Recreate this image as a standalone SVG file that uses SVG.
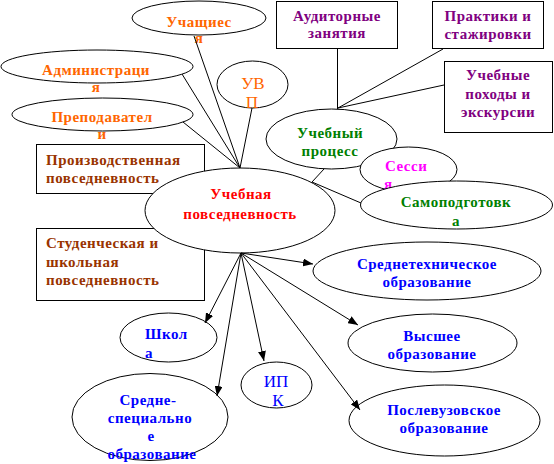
<svg xmlns="http://www.w3.org/2000/svg" width="554" height="464" viewBox="0 0 554 464">
<style>
.n{fill:#fff;stroke:#000;stroke-width:1}
.t{font-family:"Liberation Serif","Times New Roman",serif;font-weight:bold;font-size:15px;letter-spacing:0.5px}
.r{font-family:"Liberation Serif","Times New Roman",serif;font-size:17px}
.c{text-anchor:middle}
.or{fill:#FF6600}.pu{fill:#800080}.br{fill:#993300}.gr{fill:#008000}.rd{fill:#FF0000}.mg{fill:#FF00FF}.bl{fill:#0000FF}
.l{stroke:#000;stroke-width:1;fill:none}
.a{stroke:#000;stroke-width:1;fill:none;marker-end:url(#ah)}
</style>
<defs>
<marker id="ah" viewBox="0 0 10 8" refX="10" refY="4" markerWidth="10" markerHeight="8" markerUnits="userSpaceOnUse" orient="auto">
<path d="M0,0 L10,4 L0,8 Z" fill="#000"/>
</marker>
</defs>
<g id="node-uchashiesya"><ellipse class="n" cx="199" cy="18" rx="67" ry="17"/><text class="t c or" x="199" y="27">Учащиес</text><text class="t c or" x="199" y="43">я</text></g>
<g id="node-administraciya"><ellipse class="n" cx="97" cy="66.5" rx="96" ry="16.5"/><text class="t c or" x="96" y="75">Администраци</text><text class="t c or" x="96" y="92">я</text></g>
<g id="node-prepodavateli"><ellipse class="n" cx="102.5" cy="114.5" rx="90.5" ry="16.5"/><text class="t c or" x="102" y="122">Преподавател</text><text class="t c or" x="102" y="139">и</text></g>
<g id="node-uvp"><ellipse class="n" cx="252.5" cy="84.5" rx="35.5" ry="23.5"/><text class="r c or" x="253" y="89">УВ</text><text class="r c or" x="252" y="108">П</text></g>
<g id="node-auditornye"><rect class="n" x="276.5" y="1.5" width="121" height="47"/><text class="t c pu" x="337" y="21">Аудиторные</text><text class="t c pu" x="337" y="38">занятия</text></g>
<g id="node-praktiki"><rect class="n" x="432.5" y="1.5" width="111" height="47"/><text class="t c pu" x="488" y="21">Практики и</text><text class="t c pu" x="488" y="39">стажировки</text></g>
<g id="node-pohody"><rect class="n" x="444.5" y="61.5" width="108" height="71"/><text class="t c pu" x="498" y="80">Учебные</text><text class="t c pu" x="498" y="99">походы и</text><text class="t c pu" x="498" y="117">экскурсии</text></g>
<g id="node-uchebny-process"><ellipse class="n" cx="331.5" cy="139" rx="65.5" ry="30"/><text class="t c gr" x="330" y="138">Учебный</text><text class="t c gr" x="330" y="156">процесс</text></g>
<g id="node-sessiya"><ellipse class="n" cx="408.5" cy="169.5" rx="48.5" ry="22.5"/><text class="t mg" x="385" y="171">Сесси</text><text class="t mg" x="384" y="189">я</text></g>
<g id="node-samopodgotovka"><ellipse class="n" cx="456.5" cy="205" rx="96" ry="24"/><text class="t c gr" x="456" y="207">Самоподготовк</text><text class="t c gr" x="456" y="226">а</text></g>
<g id="node-proizv"><rect class="n" x="36.5" y="144.5" width="168" height="49"/><text class="t br" x="46" y="165">Производственная</text><text class="t br" x="46" y="183">повседневность</text></g>
<g id="node-student"><rect class="n" x="36.5" y="228.5" width="168" height="72"/><text class="t br" x="46" y="248">Студенческая и</text><text class="t br" x="46" y="267">школьная</text><text class="t br" x="46" y="285">повседневность</text></g>
<g id="node-uchebnaya"><ellipse class="n" cx="240" cy="210.5" rx="95" ry="42.5"/><text class="t c rd" x="241" y="199">Учебная</text><text class="t c rd" x="240" y="219">повседневность</text></g>
<g id="node-srednetech"><ellipse class="n" cx="427" cy="271" rx="114" ry="29"/><text class="t c bl" x="427" y="269">Среднетехническое</text><text class="t c bl" x="427" y="287">образование</text></g>
<g id="node-vysshee"><ellipse class="n" cx="432.5" cy="343" rx="84.5" ry="29"/><text class="t c bl" x="432" y="341">Высшее</text><text class="t c bl" x="432" y="359">образование</text></g>
<g id="node-poslevuz"><ellipse class="n" cx="444.5" cy="420.5" rx="95.5" ry="35.5"/><text class="t c bl" x="444" y="415">Послевузовское</text><text class="t c bl" x="444" y="433">образование</text></g>
<g id="node-ipk"><ellipse class="n" cx="276.5" cy="385" rx="35.5" ry="23"/><text class="r c bl" x="276" y="387">ИП</text><text class="r c bl" x="278" y="406">К</text></g>
<g id="node-shkola"><ellipse class="n" cx="168.5" cy="337.5" rx="48.5" ry="24.5"/><text class="t bl" x="145" y="339">Школ</text><text class="t bl" x="145" y="358">а</text></g>
<g id="node-srednespec"><ellipse class="n" cx="150" cy="417" rx="78" ry="43.5"/><text class="t c bl" x="148" y="405">Средне-</text><text class="t c bl" x="150" y="423">специально</text><text class="t c bl" x="151" y="441">е</text><text class="t c bl" x="152" y="459">образование</text></g>
<g id="connectors">
<line class="l" x1="240" y1="168" x2="194" y2="36"/>
<line class="l" x1="240" y1="168" x2="182" y2="74"/>
<line class="l" x1="240" y1="168" x2="183" y2="122"/>
<line class="l" x1="240" y1="168" x2="252" y2="108"/>
<line class="l" x1="337.5" y1="49" x2="337.5" y2="109"/>
<line class="l" x1="443" y1="49" x2="338" y2="108"/>
<line class="l" x1="444" y1="85" x2="338" y2="108"/>
<line class="l" x1="324" y1="169" x2="312" y2="182"/>
<line class="l" x1="312" y1="182" x2="361" y2="203"/>
<line class="a" x1="241" y1="253" x2="313" y2="264"/>
<line class="a" x1="241" y1="253" x2="358" y2="325"/>
<line class="a" x1="241" y1="253" x2="205" y2="323"/>
<line class="a" x1="241" y1="253" x2="264" y2="361"/>
<line class="a" x1="241" y1="253" x2="217" y2="396"/>
<line class="a" x1="241" y1="253" x2="360" y2="410"/>
</g>
</svg>
